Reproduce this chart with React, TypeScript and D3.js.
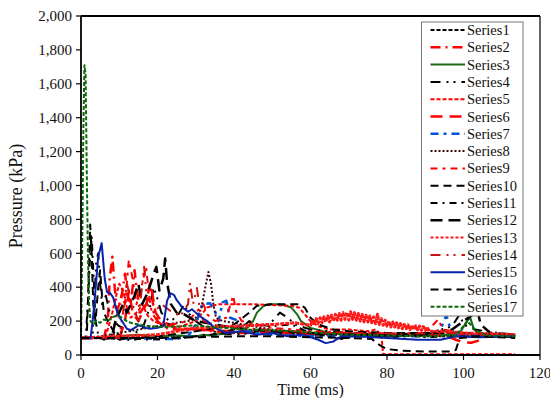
import React from "react";
import * as d3 from "d3";

type Pt = [number, number];

const xTicks = [0, 20, 40, 60, 80, 100, 120];
const yTicks = [0, 200, 400, 600, 800, 1000, 1200, 1400, 1600, 1800, 2000];
const seriesNames = Array.from({ length: 17 }, (_, i) => `Series${i + 1}`);

const series1: Pt[] = [[0,100],[5,100],[10,95],[15,100],[20,100],[25,105],[30,110],[35,120],[40,130],[45,140],[50,130],[55,125],[60,120],[65,120],[70,125],[80,125],[90,125],[100,120],[105,120],[113.5,115]];
const series2: Pt[] = [[0,100],[6,100],[7,200],[7.5,450],[8.2,580],[8.8,400],[9.5,250],[10.5,330],[11.5,480],[12.2,350],[13,300],[14,500],[14.6,380],[15.5,250],[17,300],[18,420],[19,280],[20,200],[22,160],[25,150],[30,150],[35,140],[40,130],[50,130],[60,120],[70,120],[80,120],[90,115],[100,120],[113.5,115]];
const series3: Pt[] = [[0,100],[5,100],[10,110],[15,120],[20,110],[25,115],[30,110],[32,120],[34,115],[38,130],[42,140],[44,170],[45,200],[46,250],[47.5,285],[49,300],[51,300],[53,295],[55,280],[56.5,240],[57.5,200],[60,160],[65,130],[70,120],[80,115],[90,115],[96,120],[99,130],[100.4,180],[101.7,225],[102.6,160],[103.5,130],[108,115],[113.5,110]];
const series4: Pt[] = [[0,100],[3,100],[4,550],[4.5,600],[5,420],[5.5,300],[6.5,350],[7.5,250],[8.5,200],[10,170],[12,150],[14,130],[16,150],[18,280],[19,400],[20,330],[21,250],[23,200],[25,220],[27,300],[28,250],[30,200],[33,150],[36,130],[40,120],[45,130],[50,200],[52,250],[54,220],[56,180],[60,150],[70,130],[80,120],[90,120],[97,170],[99,240],[100,180],[103,150],[113.5,115]];
const series5: Pt[] = [[0,100],[6,100],[7,150],[8,230],[9,330],[10,420],[11,380],[12,280],[13,220],[15,260],[16,300],[17.5,230],[19,200],[21,180],[25,160],[30,200],[33,280],[36,300],[40,300],[45,300],[50,295],[55,290],[57,280],[60,200],[62,170],[65,150],[70,150],[75,140],[77,150],[78.5,120],[79,5],[113.5,5]];
const series6: Pt[] = [[0,100],[10,100],[11.5,200],[12.5,380],[13.5,250],[15,200],[17,300],[18.5,380],[19.5,250],[21,200],[25,160],[30,150],[40,140],[50,140],[60,130],[70,130],[80,125],[90,120],[96,110],[98,90],[100,75],[102,72],[104,85],[106,110],[113.5,110]];
const series7: Pt[] = [[0,100],[10,100],[20,95],[25,95],[28,110],[30,180],[31.7,300],[33.7,305],[35,260],[36,200],[37,310],[38,320],[39,220],[40.8,205],[42,150],[46,130],[50,120],[55,115],[60,110],[70,110],[80,110],[90,110],[94,150],[95.5,235],[96.5,160],[98,120],[100,115],[113.5,110]];
const series8: Pt[] = [[0,100],[5,110],[10,130],[15,150],[20,170],[25,190],[28,200],[30,220],[31.5,280],[32.5,400],[33.3,490],[34,420],[34.6,300],[35.3,220],[37,200],[40,190],[45,170],[50,150],[55,140],[60,130],[70,120],[80,115],[90,110],[100,110],[113.5,105]];
const series9: Pt[] = [[0,100],[8,100],[9,200],[10.5,350],[11.5,300],[12.5,560],[13.5,450],[14.5,300],[16,420],[17,520],[17.8,350],[18.5,250],[20,200],[24,180],[28,200],[30,250],[32,300],[33,240],[35,200],[38,220],[39.8,350],[40.5,260],[42,200],[46,180],[50,160],[56,150],[60,140],[70,130],[80,125],[90,130],[93.4,210],[94.6,150],[100,130],[113.5,120]];
const series10: Pt[] = [[0,100],[1.5,100],[2,450],[2.4,770],[2.8,600],[3.2,300],[3.8,200],[4.5,400],[5,500],[5.5,350],[6,250],[7,200],[8,160],[9,120],[10,90],[12,100],[20,110],[30,140],[40,180],[44,250],[46,290],[50,300],[54,300],[57,300],[58.5,280],[60,220],[62,180],[66,150],[70,140],[80,130],[90,130],[100,130],[113.5,120]];
const series11: Pt[] = [[0,100],[1.2,100],[1.8,300],[2.3,550],[2.8,700],[3.3,450],[3.8,200],[4.5,120],[6,90],[7,110],[9,130],[11,100],[13,85],[15,95],[18,90],[22,95],[26,100],[30,110],[34,120],[38,140],[42,160],[44,200],[46,180],[50,170],[55,180],[58,150],[60,130],[65,110],[68,95],[72,110],[78,110],[80,100],[86,120],[90,105],[95,110],[100,110],[113.5,105]];
const series12: Pt[] = [[0,100],[8,100],[9,200],[11,300],[12,250],[14,350],[15,420],[16,300],[17.5,370],[19,480],[19.7,520],[20.5,380],[21.5,450],[22,570],[22.5,430],[23.5,300],[25,250],[27,240],[30,200],[35,180],[40,160],[50,140],[60,130],[70,120],[80,115],[90,120],[97,150],[100,200],[102,230],[103.5,275],[104.5,180],[107,130],[113.5,120]];
const series13: Pt[] = [[0,100],[10,110],[20,120],[30,160],[40,170],[50,180],[56,190],[60,175],[60.5,200],[61,180],[61.5,215],[62,185],[62.5,220],[63,190],[63.5,225],[64,195],[64.5,230],[65,195],[65.5,235],[66,200],[66.5,240],[67,205],[67.5,245],[68,205],[68.5,250],[69,210],[69.5,250],[70,205],[70.5,255],[71,210],[71.5,250],[72,205],[72.5,245],[73,200],[73.5,240],[74,195],[74.5,235],[75,195],[75.5,230],[76,190],[76.5,225],[77,185],[77.5,240],[78,180],[78.5,215],[79,175],[79.5,205],[80,170],[80.5,200],[81,165],[81.5,195],[82,165],[82.5,190],[83,160],[83.5,185],[84,155],[84.5,180],[85,155],[85.5,178],[86,150],[86.5,175],[87,150],[87.5,172],[88,148],[88.5,170],[89,145],[89.5,168],[90,145],[90.5,165],[91,140],[95,140],[100,130],[113.5,120]];
const series14: Pt[] = [[0,100],[10,100],[11,250],[12,420],[13,330],[15,200],[16.5,520],[17.3,300],[19,250],[21,300],[24,250],[26,230],[28,300],[28.5,425],[29.3,300],[30.3,395],[31,280],[32,200],[36,170],[42,160],[48,150],[55,140],[65,130],[75,130],[85,125],[95,130],[113.5,120]];
const series15: Pt[] = [[0,100],[2.5,100],[3.3,250],[4.5,580],[5.4,660],[6.2,450],[6.8,372],[7.6,365],[8.4,340],[9.7,235],[11,190],[12,155],[13,147],[14,160],[15,175],[16,170],[17,160],[18,155],[20,160],[21.5,170],[22.5,320],[23.3,365],[24.3,355],[25,325],[26.5,280],[28,255],[29,270],[30,250],[31,230],[33,200],[35,160],[38,130],[42,140],[46,120],[50,130],[54,110],[58,120],[62,90],[64,70],[66,80],[68,110],[72,110],[80,100],[88,90],[94,90],[98,110],[104,105],[113.5,110]];
const series16: Pt[] = [[0,100],[10,100],[20,100],[30,105],[40,110],[50,110],[60,105],[70,100],[76,95],[78,60],[80,35],[84,25],[90,20],[96,20],[98,30],[99,100],[104,110],[113.5,100]];
const series17: Pt[] = [[0,100],[0.3,600],[0.6,1300],[0.9,1710],[1.2,1650],[1.5,1100],[1.8,600],[2.1,300],[2.5,200],[3.2,180],[4,200],[5,190],[6,210],[7,200],[8,220],[9,230],[10,230],[11,215],[12,200],[13,190],[15,180],[18,170],[22,165],[26,170],[30,175],[34,165],[38,160],[44,150],[50,145],[56,140],[62,130],[70,120],[80,115],[90,110],[98,115],[101,200],[103,150],[106,115],[113.5,110]];

const allSeries = [series1, series2, series3, series4, series5, series6, series7, series8, series9, series10, series11, series12, series13, series14, series15, series16, series17];

const styles = [
  { color: "#000000", dash: "4,2", width: 2 },
  { color: "#ff0000", dash: "10,5,2,5", width: 2.5 },
  { color: "#1a6a1a", dash: "", width: 2 },
  { color: "#000000", dash: "10,6,2,5,2,6", width: 2 },
  { color: "#ff0000", dash: "4,2", width: 2 },
  { color: "#ff0000", dash: "12,7", width: 2.5 },
  { color: "#0055dd", dash: "8,5,3,5", width: 2.5 },
  { color: "#3a0a0a", dash: "2,2", width: 2 },
  { color: "#ff0000", dash: "7,5,3,5", width: 2 },
  { color: "#000000", dash: "8,5", width: 2 },
  { color: "#000000", dash: "7,5,2,5", width: 2 },
  { color: "#000000", dash: "12,6", width: 2.5 },
  { color: "#ff1a1a", dash: "3,2", width: 2 },
  { color: "#cc1111", dash: "10,6,2,5,2,6", width: 2 },
  { color: "#0a22aa", dash: "", width: 2 },
  { color: "#000000", dash: "8,5", width: 2 },
  { color: "#0a6a0a", dash: "4,2", width: 2 },
];

const FF = "Liberation Serif";
const txt: React.CSSProperties = { fontFamily: FF };

export default function App() {
  const left = 81, right = 540, top = 16, bottom = 355;
  const x = d3.scaleLinear().domain([0, 120]).range([left, right]);
  const y = d3.scaleLinear().domain([0, 2000]).range([bottom, top]);
  const line = d3.line<Pt>().x(d => x(d[0])).y(d => y(d[1]));
  const fmt = d3.format(",");

  const legX = 421.5, legY = 22, legW = 101.5, legH = 294;
  const rowY = (i: number) => 30 + i * 17.3;

  return (
    <svg width={550} height={398} fontFamily={FF} style={{ position: "absolute", left: 0, top: 0, background: "#fff", fontFamily: FF }}>
      <rect x={0} y={0} width={550} height={398} fill="#fff" />
      <g>
        {allSeries.map((s, i) => (
          <path key={i} d={line(s) || ""} fill="none" stroke={styles[i].color}
            strokeWidth={i === 12 ? 3 : styles[i].width}
            strokeDasharray={i === 12 ? "4,1" : (styles[i].dash || undefined)} strokeLinejoin="round" />
        ))}
      </g>
      {/* frame */}
      <line x1={left} x2={right} y1={top} y2={top} stroke="#000" strokeWidth={1.8} />
      <line x1={right} x2={right} y1={top} y2={bottom} stroke="#000" strokeWidth={1.2} />
      <line x1={left} x2={left} y1={top} y2={bottom} stroke="#000" strokeWidth={1.8} />
      <line x1={left} x2={right} y1={bottom} y2={bottom} stroke="#000" strokeWidth={1.8} />
      {/* y axis */}
      {yTicks.map(t => (
        <g key={t}>
          <line x1={left - 5} x2={left} y1={y(t)} y2={y(t)} stroke="#000" strokeWidth={1.2} />
          <text x={72} y={y(t)} dy="0.35em" textAnchor="end" fontSize={15} fill="#111" fontFamily={FF} style={txt}>{fmt(t)}</text>
        </g>
      ))}
      {/* x axis */}
      {xTicks.map(t => (
        <g key={t}>
          <line x1={x(t)} x2={x(t)} y1={bottom} y2={bottom + 5} stroke="#000" strokeWidth={1.2} />
          <text x={x(t)} y={378} textAnchor="middle" fontSize={15} fill="#111" fontFamily={FF} style={txt}>{t}</text>
        </g>
      ))}
      <text x={(left + right) / 2} y={395} textAnchor="middle" fontSize={16} fill="#111" fontFamily={FF} style={txt}>Time (ms)</text>
      <text transform={`translate(22,196) rotate(-90)`} textAnchor="middle" fontSize={18} fill="#111" fontFamily={FF} style={txt}>Pressure (kPa)</text>
      {/* legend */}
      <rect x={legX} y={legY} width={legW} height={legH} fill="#fff" stroke="#777" strokeWidth={1} />
      {seriesNames.map((n, i) => (
        <g key={n}>
          <line x1={430.5} x2={465} y1={rowY(i)} y2={rowY(i)} stroke={styles[i].color} strokeWidth={styles[i].width} strokeDasharray={styles[i].dash || undefined} />
          <text x={467} y={rowY(i)} dy="0.35em" fontSize={14.5} fill="#111" fontFamily={FF} style={txt}>{n}</text>
        </g>
      ))}
    </svg>
  );
}
